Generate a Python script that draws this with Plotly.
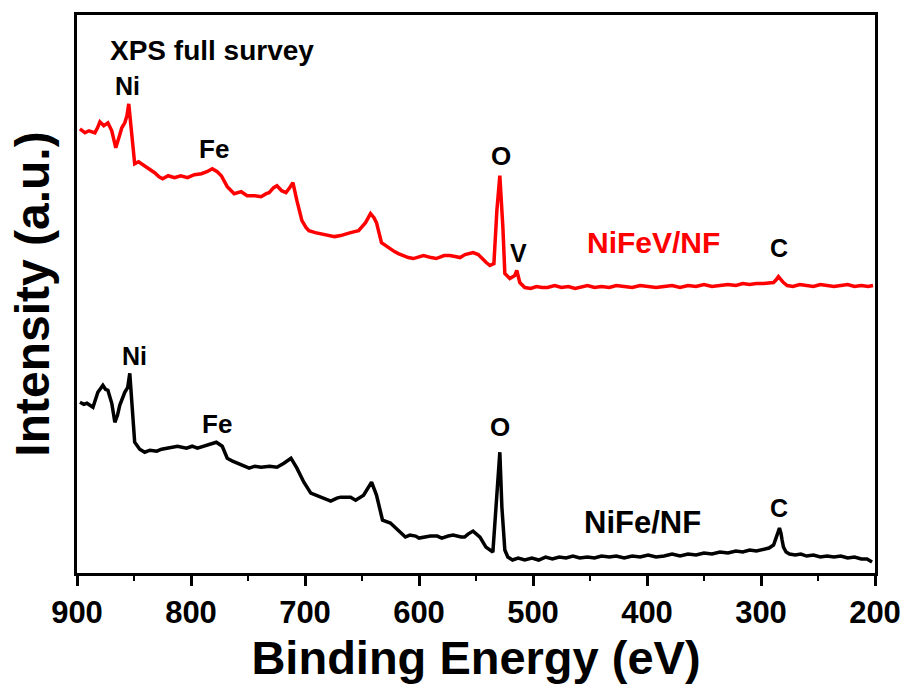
import plotly.graph_objects as go

# XPS survey spectra (binding energy in eV, intensity in arbitrary units)
nifev_energy = [
    897.4, 893.0, 889.5, 884.3, 882.0, 879.9, 876.5, 872.9, 869.5, 866.0,
    863.0, 860.7, 858.1, 856.2, 854.6, 853.2, 852.0, 849.4, 846.0, 843.3,
    841.0, 838.9, 835.0, 831.9, 828.0, 824.9, 820.0, 814.5, 809.0, 803.1,
    797.0, 790.9, 786.0, 781.3, 777.0, 773.4, 768.2, 762.1, 756.0, 750.7,
    744.0, 738.5, 734.0, 731.5, 727.5, 724.6, 720.5, 716.7, 713.5, 710.6,
    707.1, 702.7, 699.0, 696.6, 691.0, 686.2, 680.0, 674.0, 668.7, 664.0,
    660.0, 656.5, 653.0, 646.9, 642.5, 639.5, 637.3, 632.9, 629.5, 626.8,
    621.5, 618.1, 614.0, 609.4, 605.0, 600.0, 596.0, 589.3, 585.0, 578.0,
    573.0, 568.3, 564.0, 559.6, 552.6, 548.0, 545.6, 541.0, 537.8, 534.3,
    531.7, 529.1, 526.4, 524.7, 520.3, 516.0, 514.2, 511.6, 507.2, 502.0,
    497.0, 492.0, 487.2, 481.0, 475.0, 469.0, 463.0, 457.0, 452.2, 446.0,
    440.0, 433.0, 427.0, 420.0, 413.0, 406.0, 399.0, 392.0, 385.0, 378.0,
    371.0, 364.0, 357.0, 350.0, 343.0, 336.0, 329.0, 322.0, 316.0, 310.0,
    304.0, 297.8, 292.0, 289.0, 286.5, 284.7, 282.5, 280.3, 277.0, 272.0,
    266.0, 260.0, 254.0, 248.0, 242.0, 236.0, 230.0, 224.0, 218.0, 212.0,
    206.0, 201.7,
]
nifev_intensity = [
    445, 441, 443, 441, 446, 452, 448, 451, 443, 426,
    437, 446, 451, 458, 470, 452, 440, 410, 412, 410,
    408, 406, 403, 401, 397, 395, 398, 396, 398, 396,
    399, 400, 402, 405, 402, 398, 387, 380, 382, 378,
    378, 377, 380, 381, 386, 388, 383, 381, 386, 391,
    373, 353, 346, 343, 341, 340, 338, 337, 338, 340,
    341, 342, 343, 351, 360, 356, 351, 331, 328, 326,
    322, 320, 318, 316, 315, 317, 318, 316, 315, 318,
    318, 317, 316, 319, 321, 319, 316, 311, 308, 310,
    363, 398, 346, 300, 295, 298, 303, 291, 286, 285,
    287, 286, 286, 288, 286, 287, 285, 287, 288, 286,
    287, 286, 288, 287, 286, 288, 287, 286, 287, 288,
    286, 288, 287, 289, 287, 288, 289, 288, 290, 289,
    290, 290, 291, 291, 294, 297, 294, 291, 288, 287,
    289, 288, 287, 289, 288, 287, 288, 289, 287, 288,
    287, 288,
]

nife_energy = [
    897.4, 894.0, 891.3, 886.0, 881.7, 877.3, 875.0, 872.9, 869.5, 866.8,
    864.5, 862.5, 858.1, 855.5, 853.7, 852.3, 851.1, 849.4, 845.0, 840.6,
    836.0, 830.0, 825.8, 818.0, 811.8, 804.0, 799.0, 794.4, 785.7, 781.0,
    777.8, 772.6, 768.2, 763.5, 759.5, 754.0, 749.0, 744.0, 738.5, 731.0,
    724.6, 718.5, 712.3, 707.1, 701.0, 694.9, 686.2, 681.0, 677.4, 672.0,
    668.7, 660.0, 655.6, 648.6, 641.6, 637.3, 632.0, 625.1, 618.1, 612.0,
    608.0, 603.0, 600.0, 594.5, 590.0, 584.0, 580.0, 574.4, 570.0, 563.1,
    560.0, 557.0, 552.6, 546.5, 541.3, 535.2, 532.5, 529.1, 527.3, 524.7,
    522.1, 518.0, 513.0, 507.2, 501.0, 495.0, 489.0, 483.0, 477.0, 471.0,
    465.0, 459.0, 452.2, 446.0, 440.0, 433.0, 427.0, 420.0, 413.0, 406.0,
    399.0, 392.0, 385.0, 378.0, 371.0, 364.0, 357.0, 350.0, 343.0, 336.0,
    329.0, 322.0, 316.0, 310.0, 304.0, 297.8, 293.0, 289.0, 286.5, 285.0,
    283.8, 282.5, 281.5, 280.3, 278.0, 275.0, 270.0, 265.0, 260.0, 254.0,
    248.0, 242.0, 236.0, 230.0, 224.0, 218.0, 212.0, 207.0, 202.6,
]
nife_intensity = [
    171, 169, 170, 166, 181, 188, 184, 183, 170, 151,
    158, 168, 181, 186, 200, 178, 153, 131, 124, 121,
    123, 122, 124, 126, 127, 125, 127, 125, 128, 130,
    131, 127, 115, 112, 110, 108, 105, 107, 106, 107,
    106, 110, 115, 105, 91, 80, 76, 74, 72, 75,
    76, 76, 73, 78, 91, 78, 53, 50, 43, 36,
    38, 37, 35, 36, 37, 37, 35, 37, 38, 36,
    36, 39, 42, 36, 26, 21, 66, 121, 66, 23,
    16, 13, 15, 13, 15, 13, 16, 14, 16, 15,
    17, 15, 16, 15, 17, 16, 17, 15, 17, 16,
    18, 16, 17, 19, 17, 19, 18, 20, 19, 21,
    20, 22, 21, 23, 22, 24, 25, 28, 35, 41,
    45, 40, 33, 26, 21, 19, 18, 19, 17, 18,
    16, 17, 16, 17, 15, 16, 14, 14, 11,
]

x_ticks = [900, 800, 700, 600, 500, 400, 300, 200]
x_tick_labels = ["900", "800", "700", "600", "500", "400", "300", "200"]

# Peak / sample labels: text, energy, intensity, colour, size
label_text = ["Ni", "Fe", "O", "V", "C", "NiFeV/NF",
              "Ni", "Fe", "O", "C", "NiFe/NF"]
label_energy = [855.5, 779.5, 528.1, 512.4, 284.6, 394.5,
                849.4, 776.9, 529.0, 284.6, 404.2]
label_intensity = [488, 425, 418, 321, 326, 331,
                   217, 149, 146, 65, 51]
label_color = ["black", "black", "black", "black", "black", "#ff0000",
               "black", "black", "black", "black", "black"]
label_size = [25, 26, 26, 25, 25, 30,
              25, 26, 26, 25, 31]

FONT = "Liberation Sans, Arial, Helvetica, sans-serif"

fig = go.Figure()
fig.add_trace(go.Scatter(x=nife_energy, y=nife_intensity, mode="lines",
                         line=dict(color="black", width=3.5), name="NiFe/NF"))
fig.add_trace(go.Scatter(x=nifev_energy, y=nifev_intensity, mode="lines",
                         line=dict(color="#ff0000", width=3.5), name="NiFeV/NF"))

for t, e, i, c, s in zip(label_text, label_energy, label_intensity,
                         label_color, label_size):
    fig.add_annotation(x=e, y=i, xref="x", yref="y", text=t, showarrow=False,
                       font=dict(family=FONT, size=s, color=c, weight="bold"),
                       xanchor="center", yanchor="middle")

fig.add_annotation(x=0.0387, y=0.936, xref="paper", yref="paper",
                   text="XPS full survey", showarrow=False,
                   font=dict(family=FONT, size=28, color="black", weight="bold"),
                   xanchor="left", yanchor="middle")

fig.update_layout(
    width=913, height=689,
    margin=dict(l=77, r=34, t=14, b=116),
    paper_bgcolor="white", plot_bgcolor="white",
    showlegend=False,
    font=dict(family=FONT, color="black"),
)
fig.update_xaxes(
    range=[900, 200], autorange=False,
    tickvals=x_ticks, ticktext=x_tick_labels,
    ticks="outside", ticklen=10, tickwidth=2.5, tickcolor="black",
    minor=dict(dtick=50, ticks="outside", ticklen=5, tickwidth=2, tickcolor="black"),
    showline=True, linewidth=3, linecolor="black", mirror=True,
    showgrid=False, zeroline=False,
    tickfont=dict(family=FONT, size=31, color="black", weight="bold"),
    title=dict(text="Binding Energy (eV)", standoff=12,
               font=dict(family=FONT, size=47, color="black", weight="bold")),
)
fig.update_yaxes(
    range=[0, 559], autorange=False,
    showticklabels=False, ticks="",
    showline=True, linewidth=3, linecolor="black", mirror=True,
    showgrid=False, zeroline=False,
    title=dict(text="Intensity (a.u.)", standoff=10,
               font=dict(family=FONT, size=48, color="black", weight="bold")),
)

fig.write_html("out.html")
